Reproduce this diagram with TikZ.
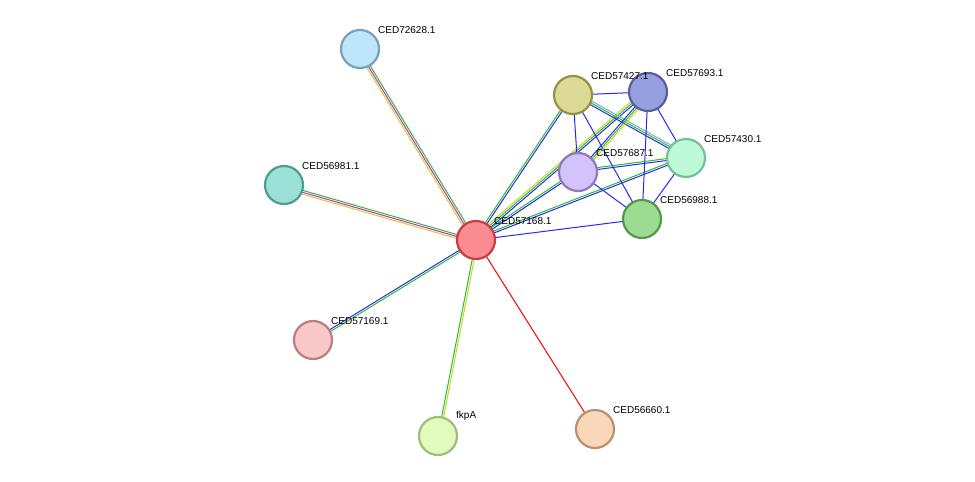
\documentclass[tikz,border=0pt]{standalone}
\usepackage{fontspec}
\setmainfont{Liberation Sans}
\usetikzlibrary{calc,backgrounds}
\definecolor{eblue}{RGB}{40,40,240}
\definecolor{egreen}{RGB}{40,190,40}
\definecolor{eyellow}{RGB}{200,210,40}
\definecolor{emag}{RGB}{200,40,200}
\definecolor{elblue}{RGB}{120,170,220}
\tikzset{
  prot/.style={circle,draw,line width=2.2pt,minimum size=38pt,inner sep=0pt},
  lab/.style={font=\fontsize{10}{12}\selectfont,anchor=south west,inner sep=1pt},
}
% edge with parallel coloured lines
\newcommand{\edge}[3]{%
  \foreach \c [count=\i] in {#3} {
    \pgfmathsetmacro{\off}{(\i-1)*1.9}
    \draw[\c,line width=1pt] ($(#1)!\off pt!90:(#2)$) -- ($(#2)!\off pt!-90:(#1)$);
  }}
\begin{document}
\begin{tikzpicture}[x=1pt,y=-1pt]
\useasboundingbox (0,0) rectangle (975,482);
\node[prot,fill={rgb,255:red,250;green,140;blue,145},draw={rgb,255:red,200;green,60;blue,70}] (c168) at (476,240) {};
\node[prot,fill={rgb,255:red,190;green,230;blue,250},draw={rgb,255:red,120;green,160;blue,190}] (c628) at (360,49) {};
\node[prot,fill={rgb,255:red,220;green,218;blue,150},draw={rgb,255:red,150;green,145;blue,70}] (c427) at (573,95) {};
\node[prot,fill={rgb,255:red,150;green,160;blue,225},draw={rgb,255:red,85;green,95;blue,160}] (c693) at (648,92) {};
\node[prot,fill={rgb,255:red,190;green,250;blue,215},draw={rgb,255:red,120;green,190;blue,150}] (c430) at (686,158) {};
\node[prot,fill={rgb,255:red,210;green,195;blue,250},draw={rgb,255:red,145;green,120;blue,190}] (c687) at (578,172) {};
\node[prot,fill={rgb,255:red,155;green,220;blue,145},draw={rgb,255:red,85;green,150;blue,80}] (c988) at (642,219) {};
\node[prot,fill={rgb,255:red,155;green,225;blue,215},draw={rgb,255:red,80;green,155;blue,145}] (c981) at (284,185) {};
\node[prot,fill={rgb,255:red,248;green,200;blue,200},draw={rgb,255:red,190;green,125;blue,125}] (c169) at (313,340) {};
\node[prot,fill={rgb,255:red,225;green,250;blue,190},draw={rgb,255:red,160;green,190;blue,120}] (fkpa) at (438,436) {};
\node[prot,fill={rgb,255:red,250;green,215;blue,185},draw={rgb,255:red,185;green,145;blue,115}] (c660) at (595,429) {};

\begin{pgfonlayer}{background}
\edge{c168}{c628}{egreen,emag,eyellow}
\edge{c168}{c981}{egreen,emag,eyellow}
\edge{c168}{c169}{eblue,egreen}
\edge{c168}{fkpa}{egreen,eyellow}
\edge{c168}{c660}{red}
\edge{c168}{c427}{eblue,egreen}
\edge{c168}{c693}{eblue,egreen,eyellow}
\edge{c168}{c687}{eblue,egreen}
\edge{c168}{c430}{eblue,egreen}
\edge{c168}{c988}{eblue}
\edge{c427}{c693}{eblue}
\edge{c427}{c430}{eblue,egreen,elblue}
\edge{c427}{c687}{eblue}
\edge{c427}{c988}{eblue}
\edge{c693}{c687}{eblue,egreen,eyellow}
\edge{c693}{c430}{eblue}
\edge{c693}{c988}{eblue}
\edge{c687}{c430}{eblue,egreen}
\edge{c687}{c988}{eblue}
\edge{c430}{c988}{eblue}
\end{pgfonlayer}

\node[lab] at ($(c628)+(17,-14)$) {CED72628.1};
\node[lab] at ($(c427)+(17,-14)$) {CED57427.1};
\node[lab] at ($(c693)+(17,-14)$) {CED57693.1};
\node[lab] at ($(c430)+(17,-14)$) {CED57430.1};
\node[lab] at ($(c687)+(17,-14)$) {CED57687.1};
\node[lab] at ($(c988)+(17,-14)$) {CED56988.1};
\node[lab] at ($(c981)+(17,-14)$) {CED56981.1};
\node[lab] at ($(c168)+(17,-14)$) {CED57168.1};
\node[lab] at ($(c169)+(17,-14)$) {CED57169.1};
\node[lab] at ($(fkpa)+(17,-14)$) {fkpA};
\node[lab] at ($(c660)+(17,-14)$) {CED56660.1};
\end{tikzpicture}
\end{document}
